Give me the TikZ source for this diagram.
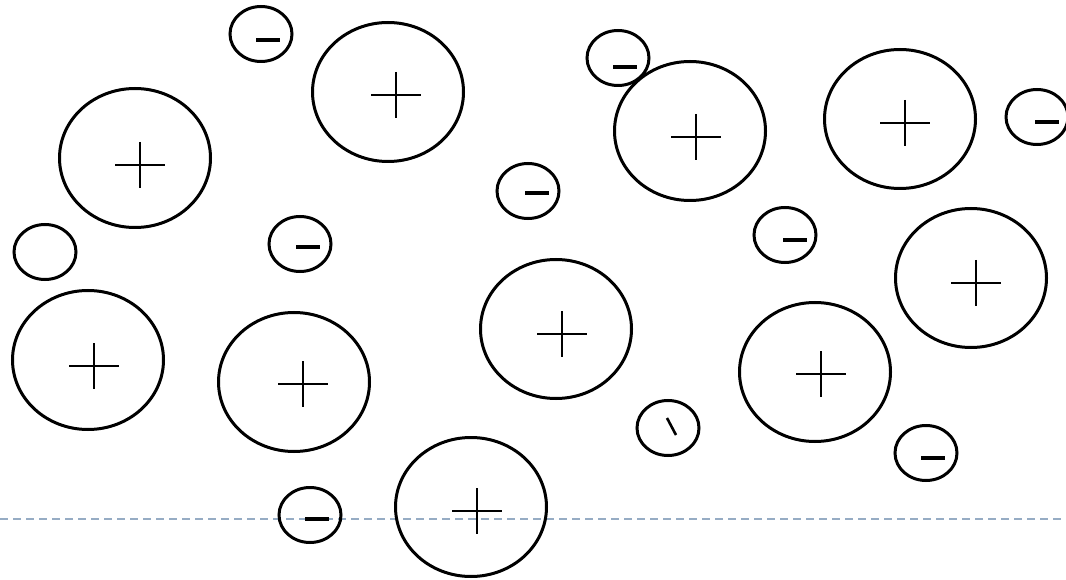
\documentclass[tikz,border=0pt]{standalone}
\usepackage{tikz}
\usetikzlibrary{shapes.geometric}
\definecolor{axisblue}{RGB}{150,172,196}

\begin{document}
\begin{tikzpicture}[x=1pt,y=-1pt,
  ion/.style={draw,ellipse,line width=3pt,inner sep=0pt},
  cation/.style={ion,minimum width=151pt,minimum height=139pt},
  anion/.style={ion,minimum width=62pt,minimum height=55pt},
  plus/.style={line width=1.4pt},
  minus/.style={line width=4pt},
  axis/.style={draw=axisblue,line width=1.6pt,dash pattern=on 8pt off 5pt},
]
\useasboundingbox (0,0) rectangle (1066,580);
% reference line
\coordinate (axl) at (0,519);
\coordinate (axr) at (1066,519);
\draw[axis] (axl) -- (axr);
% large positive ions
\foreach \cx/\cy/\px/\py [count=\i] in {135/158/140/165, 388/92/396/95, 690/131/696/137,
    900/119/905/123, 971/278/976/283, 556/329/562/334, 88/360/94/366,
    294/382/303/384, 815/372/821/374, 471/507/477/511}{
  \node[cation] (p\i) at (\cx,\cy) {};
  \draw[plus] (\px-25,\py) -- (\px+25,\py);
  \draw[plus] (\px,\py-23) -- (\px,\py+23);
}
% small negative ions
\foreach \cx/\cy/\mx/\my [count=\i] in {261/34/268/40, 618/58/625/67, 1037/117/1047/122,
    528/191/537/193, 300/244/308/247, 785/235/795/240, 926/453/933/458,
    310/515/317/519}{
  \node[anion] (n\i) at (\cx,\cy) {};
  \draw[minus] (\mx-12,\my) -- (\mx+12,\my);
}
% small ions without sign
\node[anion] (g) at (45,252) {};
\node[anion] (h) at (668,428) {};
\draw[line width=2.6pt] (667,418) -- (676,435);
\end{tikzpicture}
\end{document}
